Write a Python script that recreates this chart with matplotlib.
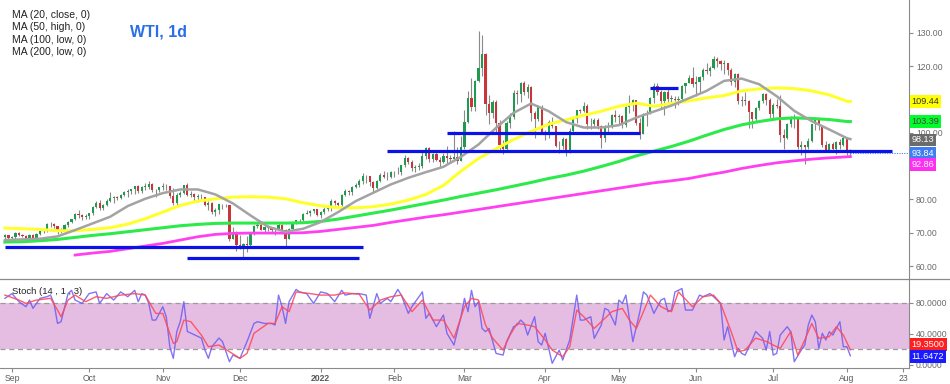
import numpy as np
import pandas as pd
import matplotlib
matplotlib.use("Agg")
import matplotlib.pyplot as plt
from matplotlib.lines import Line2D

plt.rcParams['font.family'] = ['Liberation Sans', 'DejaVu Sans']

# daily candles, one row per week (Mon..Fri), 30 Aug 2021 .. 2 Aug 2022
opens = [
    68.7, 69.2, 68.5, 68.6, 70.0,  69.3, 69.1, 68.4, 69.3, 68.1,
    69.7, 70.5, 70.5, 72.6, 72.6,  72.0, 70.3, 70.6, 72.2, 73.3,
    74.0, 75.5, 75.3, 74.8, 75.0,  75.9, 77.6, 78.9, 77.4, 78.3,
    79.4, 80.5, 80.6, 80.4, 81.3,  82.3, 82.4, 83.0, 83.9, 82.5,
    83.8, 83.8, 84.7, 82.7, 82.8,  83.6, 84.1, 83.9, 80.9, 78.8,
    81.3, 81.9, 84.2, 81.3, 81.6,  80.8, 80.9, 80.8, 78.4, 79.0,
    76.1, 76.8, 78.5, 78.4, 78.2,  68.2, 70.0, 66.2, 65.6, 66.5,
    66.3, 69.5, 72.1, 72.4, 70.9,  71.7, 71.3, 70.7, 70.9, 72.4,
    70.9, 68.2, 71.1, 72.8, 73.8,  73.7, 75.6, 76.0, 76.6, 77.0,
    75.2, 76.1, 77.0, 77.9, 79.5,  78.9, 78.2, 81.2, 82.6, 82.1,
    83.8, 84.3, 85.4, 87.0, 86.9,  85.1, 83.3, 85.6, 87.4, 86.6,
    86.8, 88.2, 88.2, 88.3, 90.3,  92.3, 91.3, 89.4, 89.7, 89.9,
    93.1, 95.5, 92.1, 93.7, 91.8,  91.1, 93.0, 92.4, 92.1, 92.8,
    91.6, 95.7, 103.4, 110.6, 107.7,  115.7, 119.4, 123.7, 108.7, 106.0,
    109.3, 103.0, 96.4, 95.0, 103.0,  104.7, 112.1, 111.8, 114.9, 112.3,
    113.9, 106.0, 104.2, 107.8, 100.3,  99.3, 103.3, 102.0, 96.2, 96.0,
    98.3, 94.3, 100.6, 104.3, 107.0,  106.5, 108.2, 102.6, 102.8, 103.8,
    102.1, 98.5, 101.7, 101.9, 105.4,  104.7, 105.2, 102.4, 107.8, 108.3,
    109.8, 103.1, 99.8, 105.7, 106.1,  110.5, 114.2, 112.4, 109.6, 112.2,
    110.3, 110.3, 109.8, 110.3, 114.1,  115.1, 116.5, 114.7, 115.3, 116.9,
    118.9, 118.5, 119.4, 122.1, 121.5,  120.7, 120.9, 118.9, 115.3, 117.6,
    109.6, 110.0, 109.5, 106.2, 104.3,  107.6, 109.6, 111.8, 109.8, 105.8,
    108.4, 108.0, 99.5, 98.5, 102.7,  104.8, 104.1, 95.8, 96.3, 95.8,
    97.6, 102.6, 104.2, 102.3, 96.4,  94.7, 96.7, 95.0, 97.3, 96.4,
    98.6, 93.9]
highs = [
    69.6, 69.3, 69.0, 70.3, 70.1,  69.5, 69.3, 69.6, 69.5, 69.9,
    70.7, 71.2, 72.8, 73.1, 72.9,  72.1, 71.5, 72.6, 73.5, 74.2,
    75.9, 76.7, 75.6, 75.6, 76.0,  78.0, 79.5, 79.8, 78.6, 80.1,
    82.2, 81.0, 81.0, 81.6, 82.4,  83.0, 83.1, 84.0, 84.2, 84.0,
    85.0, 85.4, 84.9, 83.1, 83.8,  84.9, 84.5, 84.1, 83.3, 81.8,
    82.4, 84.3, 84.9, 82.4, 81.8,  81.5, 81.6, 80.8, 79.5, 79.3,
    77.4, 78.6, 78.7, 78.5, 78.3,  71.7, 70.4, 69.4, 67.0, 69.0,
    69.7, 72.3, 72.9, 72.9, 71.9,  72.4, 71.6, 71.5, 72.9, 72.6,
    71.0, 71.5, 72.9, 73.9, 74.0,  75.9, 76.9, 76.9, 77.2, 77.1,
    76.6, 77.6, 78.1, 80.2, 79.9,  79.3, 81.5, 83.0, 82.9, 84.1,
    84.8, 86.0, 87.9, 87.3, 87.0,  85.6, 85.8, 87.9, 88.5, 88.2,
    88.4, 88.4, 89.7, 90.4, 93.2,  92.7, 91.9, 90.2, 90.8, 94.7,
    95.8, 95.6, 93.9, 94.2, 92.6,  93.9, 96.0, 93.4, 100.5, 95.6,
    99.1, 106.8, 112.5, 116.6, 116.0,  130.5, 129.4, 124.0, 111.4, 110.0,
    109.8, 103.8, 98.0, 103.6, 105.9,  112.9, 112.9, 115.4, 115.7, 114.6,
    114.0, 106.5, 108.3, 108.4, 101.0,  104.0, 104.9, 102.2, 97.6, 98.8,
    98.5, 101.6, 104.7, 107.0, 107.3,  109.2, 108.6, 104.4, 104.5, 104.5,
    102.3, 102.4, 103.2, 105.8, 107.0,  105.7, 105.3, 108.0, 111.4, 110.3,
    110.0, 104.6, 106.0, 107.0, 110.8,  114.9, 115.0, 112.9, 112.6, 113.2,
    111.5, 111.1, 111.2, 114.4, 115.1,  117.4, 119.9, 117.0, 117.1, 119.4,
    120.9, 120.0, 123.2, 122.7, 121.9,  122.0, 121.0, 119.5, 118.0, 118.1,
    111.2, 112.2, 110.0, 106.4, 107.8,  110.0, 112.0, 112.0, 110.4, 108.9,
    110.1, 111.5, 101.1, 103.1, 105.1,  105.8, 104.5, 97.6, 96.5, 98.5,
    102.8, 104.9, 104.4, 102.4, 97.6,  96.9, 97.3, 97.6, 98.3, 99.0,
    98.8, 95.0]
lows = [
    67.9, 67.7, 67.6, 68.1, 68.9,  68.7, 67.6, 68.0, 67.7, 67.9,
    69.4, 69.9, 70.2, 71.8, 71.3,  69.6, 69.8, 70.4, 71.8, 72.9,
    73.9, 74.3, 73.9, 74.0, 74.1,  75.3, 77.4, 76.9, 76.7, 77.9,
    79.3, 79.0, 79.8, 80.0, 81.1,  80.6, 81.5, 81.7, 81.9, 81.8,
    82.8, 83.1, 82.2, 80.6, 82.3,  82.9, 82.8, 80.5, 78.3, 78.3,
    80.8, 81.6, 80.9, 80.7, 79.3,  79.3, 79.5, 78.0, 76.9, 75.5,
    74.9, 75.6, 77.1, 77.6, 67.4,  68.0, 64.4, 65.1, 62.4, 64.1,
    66.0, 69.3, 71.5, 70.7, 69.9,  70.5, 69.8, 69.4, 70.7, 70.2,
    66.1, 68.0, 70.7, 72.5, 73.1,  73.4, 75.5, 75.1, 75.8, 74.9,
    74.3, 75.6, 76.4, 76.5, 78.2,  77.9, 77.6, 81.0, 81.4, 81.3,
    83.5, 83.8, 84.5, 84.8, 84.0,  81.9, 83.0, 85.1, 86.3, 85.9,
    86.4, 86.6, 87.7, 87.3, 89.6,  90.5, 88.5, 88.2, 88.7, 89.4,
    92.2, 91.3, 91.3, 91.5, 89.5,  90.9, 90.5, 91.0, 91.6, 90.6,
    91.4, 95.0, 103.0, 106.5, 106.6,  115.4, 117.2, 105.3, 102.7, 104.5,
    99.8, 94.6, 93.5, 94.6, 101.5,  104.2, 108.6, 109.4, 111.4, 110.6,
    103.5, 98.4, 103.5, 99.8, 97.9,  98.5, 101.4, 95.7, 93.8, 95.0,
    92.9, 94.0, 100.1, 102.9, 106.1,  106.2, 101.2, 101.2, 101.9, 101.2,
    95.3, 97.4, 100.3, 101.6, 103.2,  102.4, 101.4, 101.7, 105.9, 106.6,
    102.3, 98.2, 99.7, 102.1, 105.6,  108.9, 111.3, 107.3, 105.3, 109.3,
    108.6, 107.4, 108.5, 109.9, 112.0,  114.9, 113.7, 111.0, 112.3, 116.0,
    117.7, 117.0, 119.1, 119.8, 118.8,  117.6, 117.3, 114.5, 113.9, 108.8,
    108.1, 108.5, 101.5, 101.6, 103.6,  106.9, 109.0, 108.4, 104.6, 104.6,
    107.6, 97.4, 95.1, 98.3, 101.9,  101.5, 95.1, 93.2, 90.6, 95.2,
    97.3, 101.0, 100.9, 95.6, 94.5,  94.3, 94.3, 93.6, 95.0, 96.2,
    93.3, 92.9]
closes = [
    69.2, 68.5, 68.6, 70.0, 69.3,  69.1, 68.4, 69.3, 68.1, 69.7,
    70.5, 70.5, 72.6, 72.6, 72.0,  70.3, 70.6, 72.2, 73.3, 74.0,
    75.5, 75.3, 74.8, 75.0, 75.9,  77.6, 78.9, 77.4, 78.3, 79.4,
    80.5, 80.6, 80.4, 81.3, 82.3,  82.4, 83.0, 83.9, 82.5, 83.8,
    83.8, 84.7, 82.7, 82.8, 83.6,  84.1, 83.9, 80.9, 78.8, 81.3,
    81.9, 84.2, 81.3, 81.6, 80.8,  80.9, 80.8, 78.4, 79.0, 76.1,
    76.8, 78.5, 78.4, 78.2, 68.2,  70.0, 66.2, 65.6, 66.5, 66.3,
    69.5, 72.1, 72.4, 70.9, 71.7,  71.3, 70.7, 70.9, 72.4, 70.9,
    68.2, 71.1, 72.8, 73.8, 73.7,  75.6, 76.0, 76.6, 77.0, 75.2,
    76.1, 77.0, 77.9, 79.5, 78.9,  78.2, 81.2, 82.6, 82.1, 83.8,
    84.3, 85.4, 87.0, 86.9, 85.1,  83.3, 85.6, 87.4, 86.6, 86.8,
    88.2, 88.2, 88.3, 90.3, 92.3,  91.3, 89.4, 89.7, 89.9, 93.1,
    95.5, 92.1, 93.7, 91.8, 91.1,  93.0, 92.4, 92.1, 92.8, 91.6,
    95.7, 103.4, 110.6, 107.7, 115.7,  119.4, 123.7, 108.7, 106.0, 109.3,
    103.0, 96.4, 95.0, 103.0, 104.7,  112.1, 111.8, 114.9, 112.3, 113.9,
    106.0, 104.2, 107.8, 100.3, 99.3,  103.3, 102.0, 96.2, 96.0, 98.3,
    94.3, 100.6, 104.3, 107.0, 106.5,  108.2, 102.6, 102.8, 103.8, 102.1,
    98.5, 101.7, 101.9, 105.4, 104.7,  105.2, 102.4, 107.8, 108.3, 109.8,
    103.1, 99.8, 105.7, 106.1, 110.5,  114.2, 112.4, 109.6, 112.2, 110.3,
    110.3, 109.8, 110.3, 114.1, 115.1,  116.5, 114.7, 115.3, 116.9, 118.9,
    118.5, 119.4, 122.1, 121.5, 120.7,  120.9, 118.9, 115.3, 117.6, 109.6,
    110.0, 109.5, 106.2, 104.3, 107.6,  109.6, 111.8, 109.8, 105.8, 108.4,
    108.0, 99.5, 98.5, 102.7, 104.8,  104.1, 95.8, 96.3, 95.8, 97.6,
    102.6, 104.2, 102.3, 96.4, 94.7,  96.7, 95.0, 97.3, 96.4, 98.6,
    93.9, 93.84]

# moving averages read every 5th trading day (last point = latest value)
ma_days = list(range(0, 241, 5)) + [241]
ma20 = [67.8, 68.0, 68.2, 68.9, 70.8, 72.8, 74.8, 78.0, 80.2, 81.9,
        83.0, 83.0, 81.5, 78.8, 75.2, 71.8, 70.3, 71.2, 73.2, 76.2,
        79.5, 82.0, 84.5, 86.5, 88.2, 89.8, 92.8, 96.5, 101.5, 106.0,
        108.8, 106.5, 103.2, 101.6, 101.6, 102.3, 104.6, 106.4, 108.2, 110.4,
        112.6, 115.6, 116.3, 114.6, 111.0, 106.6, 103.5, 101.0, 98.4, 98.13]
ma50 = [71.4, 71.2, 71.0, 70.6, 70.6, 71.0, 71.5, 72.6, 74.2, 76.2,
        78.2, 79.5, 80.2, 80.7, 80.8, 80.7, 80.2, 79.0, 78.1, 77.5,
        77.5, 77.8, 78.6, 79.8, 81.5, 84.2, 88.5, 92.3, 95.2, 98.0,
        100.4, 102.6, 103.9, 105.3, 106.5, 108.0, 108.9, 108.0, 108.8, 109.6,
        110.5, 111.2, 112.6, 113.2, 113.5, 113.3, 112.6, 111.4, 109.5, 109.44]
ma100 = [67.2, 67.3, 67.6, 68.0, 68.6, 69.2, 69.7, 70.3, 70.9, 71.5,
         72.1, 72.5, 72.8, 72.9, 72.9, 72.9, 72.9, 73.0, 73.4, 74.1,
         75.0, 75.9, 76.8, 77.8, 78.8, 79.8, 80.9, 81.9, 82.9, 84.0,
         85.1, 86.3, 87.3, 88.5, 89.9, 91.4, 93.1, 94.5, 95.9, 97.5,
         99.3, 101.0, 102.4, 103.4, 104.2, 104.5, 104.3, 104.0, 103.4, 103.39]
ma200_days = list(range(20, 241, 5)) + [241]
ma200 = [63.3, 63.9, 64.4, 65.2, 66.0, 66.8, 67.8, 68.8, 69.5, 69.8,
         69.9, 69.9, 69.9, 70.0, 70.4, 71.0, 71.6, 72.2, 73.1, 73.9,
         74.7, 75.4, 76.2, 77.0, 77.8, 78.6, 79.4, 80.2, 81.0, 81.8,
         82.6, 83.4, 84.2, 85.0, 85.6, 86.3, 87.3, 88.2, 89.3, 90.2,
         91.0, 91.6, 92.1, 92.5, 92.8, 92.86]

# hand-drawn horizontal levels: (first day, last day, price)
levels = [(109, 253, 94.5), (126, 181, 100.1), (184, 192, 113.4),
          (0, 102, 65.6), (52, 101, 62.3)]

# stochastic %K (blue) and %D (red), sampled by trading day
k_days = [0, 2, 4, 6, 7, 8, 10, 12, 13, 14, 15, 16, 18, 19, 20, 22, 24, 26, 27, 29,
          31, 33, 35, 37, 38, 39, 40, 41, 42, 43, 45, 46, 47, 48, 49, 50, 51, 52, 53, 56,
          57, 58, 59, 61, 62, 64, 65, 67, 68, 69, 71, 72, 74, 76, 77, 78, 79, 80, 81, 83,
          84, 86, 88, 90, 92, 94, 96, 97, 99, 101, 103, 104, 106, 107, 109, 110, 112, 113, 115, 116,
          119, 120, 121, 123, 125, 126, 128, 130, 131, 132, 133, 134, 135, 136, 137, 138, 140, 142, 143, 145,
          146, 147, 148, 149, 151, 152, 153, 154, 156, 158, 159, 161, 163, 164, 165, 167, 168, 170, 171, 172,
          174, 175, 176, 177, 179, 181, 182, 183, 185, 187, 188, 189, 190, 191, 193, 194, 196, 198, 199, 201,
          202, 204, 205, 206, 208, 209, 210, 211, 213, 214, 216, 217, 218, 219, 220, 221, 223, 224, 225, 227,
          228, 229, 230, 231, 232, 233, 234, 235, 236, 238, 239, 240, 241]
stoch_k = [85.6, 91.7, 81.3, 74.8, 83.4, 72.7, 85.6, 87.7, 89.8, 79.0, 53.3, 55.5, 91.7, 95.9, 83.4, 79.1, 91.7, 93.9, 79.1, 91.7,
           83.4, 93.9, 87.7, 95.9, 81.3, 91.7, 89.8, 79.1, 57.6, 57.6, 74.8, 61.9, 23.3, 8.3, 42.9, 55.8, 81.3, 42.9, 40.8, 34.4,
           19.3, 8.3, 23.3, 34.4, 30.1, 4.0, 12.6, 8.3, 19.0, 29.8, 53.3, 55.5, 53.3, 53.3, 51.2, 89.8, 74.8, 53.3, 81.3, 97.1,
           93.9, 91.7, 79.1, 93.9, 91.7, 81.3, 95.9, 89.8, 91.7, 91.7, 89.8, 59.8, 91.7, 79.1, 85.6, 81.3, 97.1, 89.8, 66.2, 74.8,
           93.9, 59.8, 66.2, 49.1, 64.1, 40.6, 25.5, 61.9, 85.6, 68.4, 95.9, 74.8, 81.3, 46.9, 42.6, 46.9, 14.7, 12.5, 29.8, 49.1,
           51.2, 57.6, 53.3, 38.3, 61.9, 29.8, 25.5, 40.6, 1.9, 19.0, 6.1, 32.0, 89.8, 57.6, 57.6, 61.9, 34.1, 51.2, 72.7, 70.5,
           51.2, 83.4, 79.1, 89.8, 29.8, 68.4, 93.9, 89.8, 66.2, 83.4, 85.6, 68.4, 70.5, 93.9, 98.2, 70.5, 70.5, 89.8, 87.7, 91.7,
           87.7, 79.1, 32.0, 49.1, 10.4, 21.2, 14.7, 12.5, 32.0, 42.9, 34.1, 19.0, 42.9, 12.5, 14.7, 38.3, 49.1, 42.6, 4.0, 19.0,
           25.5, 51.2, 64.1, 55.5, 21.2, 40.6, 32.0, 42.6, 38.3, 55.5, 23.3, 23.3, 11.6472]
d_days = [0, 4, 6, 9, 13, 15, 16, 18, 20, 23, 26, 29, 33, 37, 40, 43, 45, 48, 49, 51,
          53, 56, 58, 61, 64, 67, 69, 71, 75, 77, 79, 81, 83, 87, 90, 94, 97, 101, 104, 107,
          110, 113, 116, 119, 122, 125, 128, 131, 133, 135, 137, 139, 142, 144, 146, 149, 151, 154, 156, 159,
          161, 163, 165, 168, 171, 173, 176, 178, 180, 184, 187, 190, 192, 196, 199, 202, 204, 207, 209, 211,
          214, 217, 219, 221, 224, 226, 228, 230, 232, 235, 237, 239, 241]
stoch_d = [89.8, 83.4, 79.1, 83.4, 85.6, 70.5, 61.9, 83.4, 89.8, 81.3, 87.7, 85.6, 89.8, 91.7, 89.8, 66.2, 66.2, 27.6, 29.8, 57.6,
           55.5, 38.3, 23.3, 25.5, 16.9, 8.3, 14.7, 40.6, 53.3, 53.3, 74.8, 68.4, 93.9, 91.7, 89.8, 89.8, 92.6, 90.9, 70.5, 83.4,
           87.7, 89.8, 68.4, 83.4, 57.6, 57.6, 34.4, 74.8, 85.6, 83.4, 51.2, 34.4, 19.0, 38.3, 53.3, 51.2, 49.1, 32.0, 19.0, 10.4,
           23.3, 70.5, 61.9, 46.9, 59.8, 68.4, 72.7, 57.6, 46.9, 89.8, 74.8, 68.4, 93.9, 74.8, 87.7, 89.8, 79.1, 42.9, 16.9, 19.0,
           34.4, 30.1, 25.5, 21.2, 42.9, 12.5, 32.0, 53.3, 34.1, 36.3, 49.1, 38.3, 19.35]

price_ticks = [60, 70, 80, 90, 100, 110, 120, 130]
hidden_ticks = [90, 110]          # covered by the MA price tags in the original
stoch_ticks = [0, 40, 80]

month_labels = [('2021-09-01', 'Sep'), ('2021-10-01', 'Oct'), ('2021-11-01', 'Nov'),
                ('2021-12-01', 'Dec'), ('2022-01-03', '2022'), ('2022-02-01', 'Feb'),
                ('2022-03-01', 'Mar'), ('2022-04-01', 'Apr'), ('2022-05-02', 'May'),
                ('2022-06-01', 'Jun'), ('2022-07-01', 'Jul'), ('2022-08-01', 'Aug'),
                ('2022-08-23', '23')]

days = pd.bdate_range('2021-08-30', periods=len(closes))
x = np.arange(len(closes))
o = np.array(opens); h = np.array(highs); l = np.array(lows); c = np.array(closes)

TICK_FS = 6.2
GREY = '#8a8a8a'

fig = plt.figure(figsize=(9.5, 3.84), dpi=100)
ax = fig.add_axes([0, 0.2734, 0.9568, 0.7266])
ax2 = fig.add_axes([0, 0.0417, 0.9568, 0.2317], sharex=ax)

# candles
up = c >= o
ax.vlines(x, l, h, color=GREY, lw=0.8, zorder=2)
body = np.where(np.abs(c - o) < 0.15, 0.15, c - o)
ax.bar(x, body, bottom=o, width=0.62, color=np.where(up, '#1f9a4f', '#c8363a'),
       linewidth=0, zorder=3)

ax.plot(ma_days, ma100, color='#2bea4a', lw=2.2, zorder=4)
ax.plot(ma200_days, ma200, color='#ff3ff0', lw=2.0, zorder=4)
ax.plot(ma_days, ma50, color='#ffff2e', lw=2.2, zorder=4)
ax.plot(ma_days, ma20, color='#a3a3a3', lw=1.8, zorder=5)

for a, b, lev in levels:
    ax.hlines(lev, a, b, color='#0a12e6', lw=2.3, zorder=6)
ax.hlines(closes[-1], x[-1], 258, color='#4d7cf5', lw=0.8, linestyles=(0, (1, 1.2)), zorder=6)

ax.set_xlim(-1.4, 257.7)
ax.set_ylim(56.1, 139.9)
for s in ['top', 'left', 'bottom']:
    ax.spines[s].set_visible(False)
ax.spines['right'].set_color(GREY)
ax.yaxis.tick_right()
ax.set_yticks(price_ticks)
ax.set_yticklabels(['' if v in hidden_ticks else f'{v:.2f}' for v in price_ticks])
ax.tick_params(axis='y', colors=GREY, labelcolor='#6a6a6a', labelsize=TICK_FS, length=3, pad=2)
ax.tick_params(axis='x', bottom=False, labelbottom=False)

# price tags on the right axis
tags = [('109.44', '#ffff00', '#333333', 109.44),
        ('103.39', '#00ff2a', '#444444', 103.39),
        ('98.13', '#6b6b6b', 'white', 97.9),
        ('93.84', '#3f7ef2', 'white', 93.7),
        ('92.86', '#ff2ef5', 'white', 90.4)]
for txt, bg, fg, ypos in tags:
    ax.text(1.003, ypos, txt, transform=ax.get_yaxis_transform(), fontsize=6.6,
            color=fg, va='center', ha='left', zorder=10, clip_on=False,
            bbox=dict(boxstyle='square,pad=0.2', fc=bg, ec='none'))

# stochastic panel
ax2.axhspan(20, 80, color='#e6bde2', lw=0, zorder=1)
ax2.axhline(80, color='#9a9a9a', lw=0.9, ls=(0, (4, 3)), zorder=2)
ax2.axhline(20, color='#9a9a9a', lw=0.9, ls=(0, (4, 3)), zorder=2)
ax2.plot(k_days, stoch_k, color='#6b5cf2', lw=1.0, alpha=0.85, zorder=3)
ax2.plot(d_days, stoch_d, color='#ff4a5c', lw=1.0, alpha=0.9, zorder=4)
ax2.set_ylim(-4.1, 110.5)
for s in ['top', 'left']:
    ax2.spines[s].set_visible(False)
ax2.spines['right'].set_color(GREY)
ax2.spines['bottom'].set_color(GREY)
ax2.yaxis.tick_right()
ax2.set_yticks(stoch_ticks)
ax2.set_yticklabels([f'{v:.4f}' for v in stoch_ticks])
ax2.tick_params(axis='y', colors=GREY, labelcolor='#6a6a6a', labelsize=TICK_FS, length=3, pad=2)

tick_pos = []
for d, _ in month_labels:
    dt = pd.Timestamp(d)
    if dt <= days[-1]:
        tick_pos.append(days.get_loc(dt))
    else:
        tick_pos.append(len(days) - 1 + np.busday_count(days[-1].date(), dt.date()))
ax2.set_xticks(tick_pos)
ax2.set_xticklabels([lab for _, lab in month_labels])
ax2.tick_params(axis='x', colors=GREY, labelcolor='#5a5a5a', labelsize=TICK_FS, length=3, pad=1.5)
for t in ax2.get_xticklabels():
    if t.get_text() == '2022':
        t.set_fontweight('bold')

for txt, bg, yv in [('19.3500', '#ff1f1f', 26.5), ('11.6472', '#1a1aff', 10.6)]:
    ax2.text(1.003, yv, txt, transform=ax2.get_yaxis_transform(), fontsize=6.6,
             color='white', va='center', ha='left', zorder=10, clip_on=False,
             bbox=dict(boxstyle='square,pad=0.2', fc=bg, ec='none'))

fig.add_artist(Line2D([0, 1], [0.2734, 0.2734], color=GREY, lw=0.9))

fig.text(0.137, 0.917, 'WTI, 1d', color='#2a6fe6', fontsize=11.5, fontweight='bold', va='center')
for i, s in enumerate(['MA (20, close, 0)', 'MA (50, high, 0)', 'MA (100, low, 0)', 'MA (200, low, 0)']):
    fig.text(0.0126, 1 - (15 + 12.4 * i) / 384, s, fontsize=7.5, color='#222222', va='center')
fig.text(0.0126, 1 - 291 / 384, 'Stoch (14 , 1 , 3)', fontsize=6.8, color='#222222', va='center')

fig.savefig('out.png', dpi=100)
